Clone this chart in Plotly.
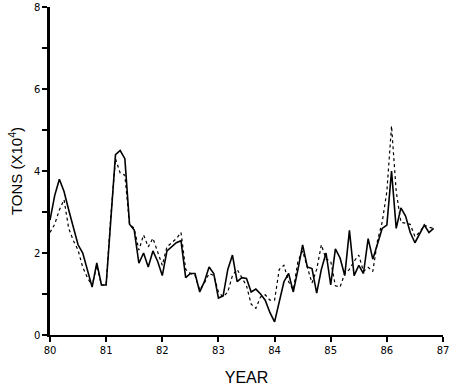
import plotly.graph_objects as go

start_year = 80.0
x_tick_labels = ["80", "81", "82", "83", "84", "85", "86", "87"]
y_tick_labels = ["0", "2", "4", "6", "8"]

solid_tons = [
    2.8, 3.4, 3.8, 3.5, 3.05, 2.6, 2.2, 2.0, 1.6, 1.17, 1.76, 1.22,
    1.22, 2.8, 4.4, 4.5, 4.3, 2.7, 2.56, 1.75, 2.0, 1.66, 2.05, 1.8,
    1.45, 2.05, 2.15, 2.25, 2.3, 1.4, 1.5, 1.5, 1.05, 1.3, 1.66, 1.5,
    0.9, 0.95, 1.6, 1.95, 1.3, 1.4, 1.38, 1.05, 1.12, 1.0, 0.85, 0.55,
    0.32, 0.85, 1.3, 1.5, 1.05, 1.6, 2.2, 1.66, 1.62, 1.02, 1.6, 2.0,
    1.22, 2.1, 1.88, 1.45, 2.55, 1.45, 1.7, 1.5, 2.35, 1.85, 2.25, 2.6,
    2.68, 4.0, 2.6, 3.1, 2.9, 2.5, 2.25, 2.45, 2.68, 2.5, 2.6,
]
dotted_tons = [
    2.5, 2.7, 3.05, 3.3, 2.6, 2.3, 2.07, 1.65, 1.4, 1.2, 1.7, 1.22,
    1.22, 2.9, 4.3, 3.95, 3.9, 2.7, 2.6, 2.07, 2.44, 2.15, 2.36, 2.05,
    1.7, 2.15, 2.25, 2.35, 2.5, 1.6, 1.5, 1.45, 1.1, 1.27, 1.5, 1.45,
    1.05, 0.93, 1.05, 1.45, 1.6, 1.4, 1.2, 0.75, 0.65, 0.93, 0.98, 0.85,
    0.85, 1.6, 1.7, 1.3, 1.1, 1.8, 2.05, 1.65, 1.27, 1.6, 2.2, 1.85,
    1.8, 1.2, 1.17, 1.5, 1.6, 1.8, 1.95, 1.55, 1.65, 1.55, 2.3, 2.75,
    3.5, 5.1, 3.5, 2.75, 2.73, 2.7, 2.4, 2.5, 2.68, 2.63, 2.6,
]

years_solid = [start_year + i / 12 for i in range(len(solid_tons))]
years_dotted = [start_year + i / 12 for i in range(len(dotted_tons))]

fig = go.Figure()
fig.add_trace(go.Scatter(x=years_dotted, y=dotted_tons, mode="lines",
                         line=dict(color="black", width=1.2, dash="dot"),
                         showlegend=False))
fig.add_trace(go.Scatter(x=years_solid, y=solid_tons, mode="lines",
                         line=dict(color="black", width=1.6),
                         showlegend=False))

tick_font = dict(family="DejaVu Sans", size=10, color="black")
fig.update_layout(
    width=453, height=388,
    margin=dict(l=50, r=10, t=7, b=53, autoexpand=False),
    paper_bgcolor="white", plot_bgcolor="white",
    xaxis=dict(
        range=[80, 87], tickvals=[float(v) for v in x_tick_labels],
        ticktext=x_tick_labels, ticks="outside", ticklen=5, tickwidth=1.5,
        tickcolor="black", showline=True, linecolor="black", linewidth=1.5,
        showgrid=False, zeroline=False, tickfont=tick_font, automargin=False,
        ticklabeloverflow="allow",
        title=dict(text="YEAR", font=dict(family="Liberation Sans", size=16, color="black"),
                   standoff=17),
    ),
    yaxis=dict(
        range=[0, 8], tickvals=[float(v) for v in y_tick_labels],
        ticktext=y_tick_labels, ticks="outside", ticklen=5, tickwidth=1.5,
        tickcolor="black", showline=True, linecolor="black", linewidth=2.5,
        showgrid=False, zeroline=False, tickfont=tick_font, automargin=False,
        ticklabeloverflow="allow",
        minor=dict(tickvals=[1, 3, 5, 7], ticks="outside", ticklen=5,
                   tickcolor="black", tickwidth=1.5),
        title=dict(text="TONS (X10<sup>4</sup>)",
                   font=dict(family="Liberation Sans", size=15, color="black"),
                   standoff=8),
    ),
)

fig.write_html("out.html", config={"displayModeBar": False},
               post_script="document.body.style.margin='0';")
